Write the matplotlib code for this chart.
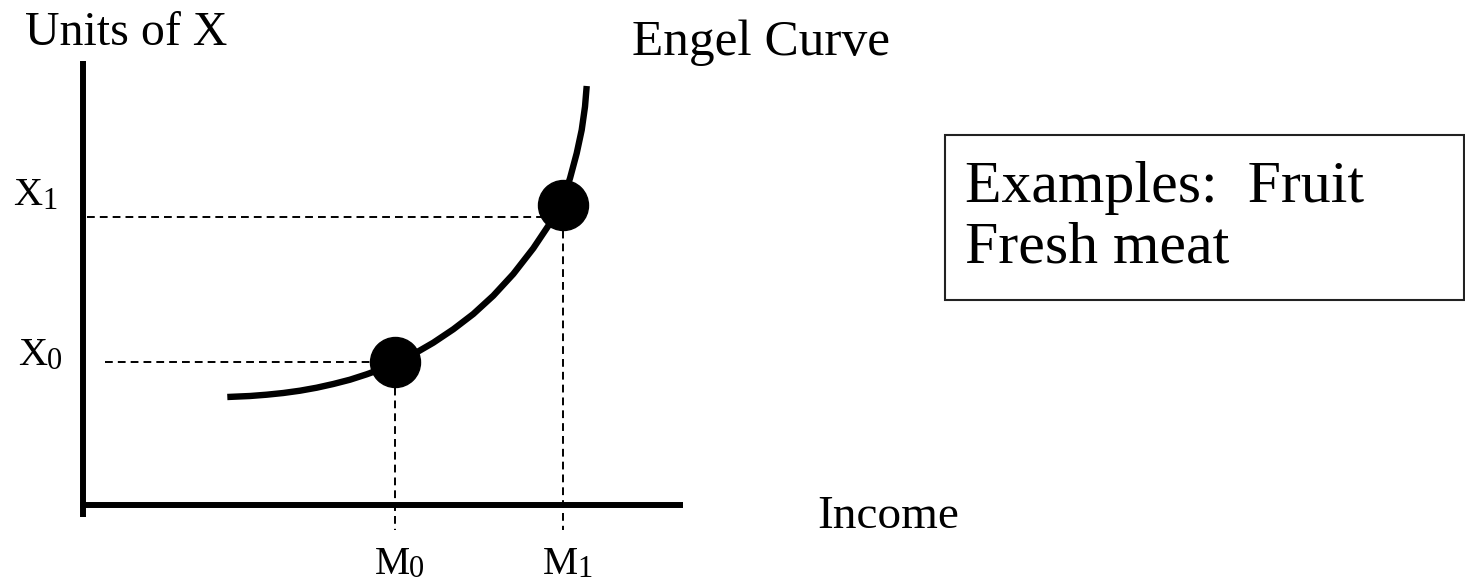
import matplotlib.pyplot as plt

# Engel curve (income, units of X)
curve_income = [14.43, 16.70, 18.37, 20.03, 21.70, 23.37, 25.03, 26.70, 28.37,
                30.03, 31.20, 33.03, 35.03, 37.03, 39.03, 41.03, 43.03, 45.03,
                46.70, 47.97, 48.70, 49.37, 49.87, 50.20, 50.37]
curve_units = [10.80, 10.90, 11.03, 11.20, 11.43, 11.73, 12.10, 12.53, 13.07,
               13.67, 14.17, 15.07, 16.23, 17.57, 19.10, 20.93, 23.10, 25.67,
               28.17, 30.50, 32.67, 35.17, 37.50, 39.83, 41.90]

# the two marked points
point_income = [31.2, 48.0]
point_units = [14.3, 30.0]
point_subs = ['0', '1']
x_guide_levels = [14.3, 28.8]
x_guide_starts = [2.2, 0.4]

x_axis_end = 60.0
y_axis_end = 44.4

title_text = 'Engel Curve'
y_label = 'Units of X'
x_label = 'Income'
box_lines = ['Examples:  Fruit', 'Fresh meat']

font = 'Liberation Serif'

fig = plt.figure(figsize=(14.65, 5.85), dpi=100)
ax = fig.add_axes([0, 0, 1, 1])
ax.set_xlim(-8.3, 138.2)
ax.set_ylim(-8.0, 50.5)
ax.axis('off')

# axes lines
ax.plot([0, 0], [-1.2, y_axis_end], color='black', lw=4.3, solid_capstyle='butt')
ax.plot([-0.3, x_axis_end], [0, 0], color='black', lw=4.3, solid_capstyle='butt')

# dashed guide lines
dash = (0, (4.0, 2.6))
for m, xs, xl in zip(point_income, x_guide_starts, x_guide_levels):
    ax.plot([xs, m], [xl, xl], color='black', lw=1.4, linestyle=dash)
for m, u in zip(point_income, point_units):
    ax.plot([m, m], [u, -2.5], color='black', lw=1.4, linestyle=dash)

# the curve and points
ax.plot(curve_income, curve_units, color='black', lw=4.6,
        solid_capstyle='butt', solid_joinstyle='round')
ax.plot(point_income, point_units, 'o', color='black', markersize=36)

# labels
ax.text(-5.8, 46.0, y_label, family=font, fontsize=34.5, va='baseline')
ax.text(54.9, 45.0, title_text, family=font, fontsize=37, va='baseline')
ax.text(73.4, -2.3, x_label, family=font, fontsize=34, va='baseline')

# X0, X1 on the vertical axis
ax.text(-6.5, 14.0, 'X', family=font, fontsize=29, va='baseline')
ax.text(-3.6, 13.6, '0', family=font, fontsize=22, va='baseline')
ax.text(-7.0, 30.0, 'X', family=font, fontsize=29, va='baseline')
ax.text(-4.1, 29.6, '1', family=font, fontsize=22, va='baseline')

# M0, M1 under the horizontal axis
for m, sub in zip(point_income, point_subs):
    ax.text(m - 2.0, -6.9, 'M', family=font, fontsize=28.5, va='baseline')
    ax.text(m + 1.4, -7.2, sub, family=font, fontsize=22, va='baseline')

# examples box
ax.add_patch(plt.Rectangle((86.2, 20.5), 51.9, 16.5, fill=False,
                           edgecolor='#222222', lw=1.5))
ax.text(88.2, 30.3, box_lines[0], family=font, fontsize=43, va='baseline')
ax.text(88.2, 24.2, box_lines[1], family=font, fontsize=43, va='baseline')

plt.savefig('out.png', dpi=100)
